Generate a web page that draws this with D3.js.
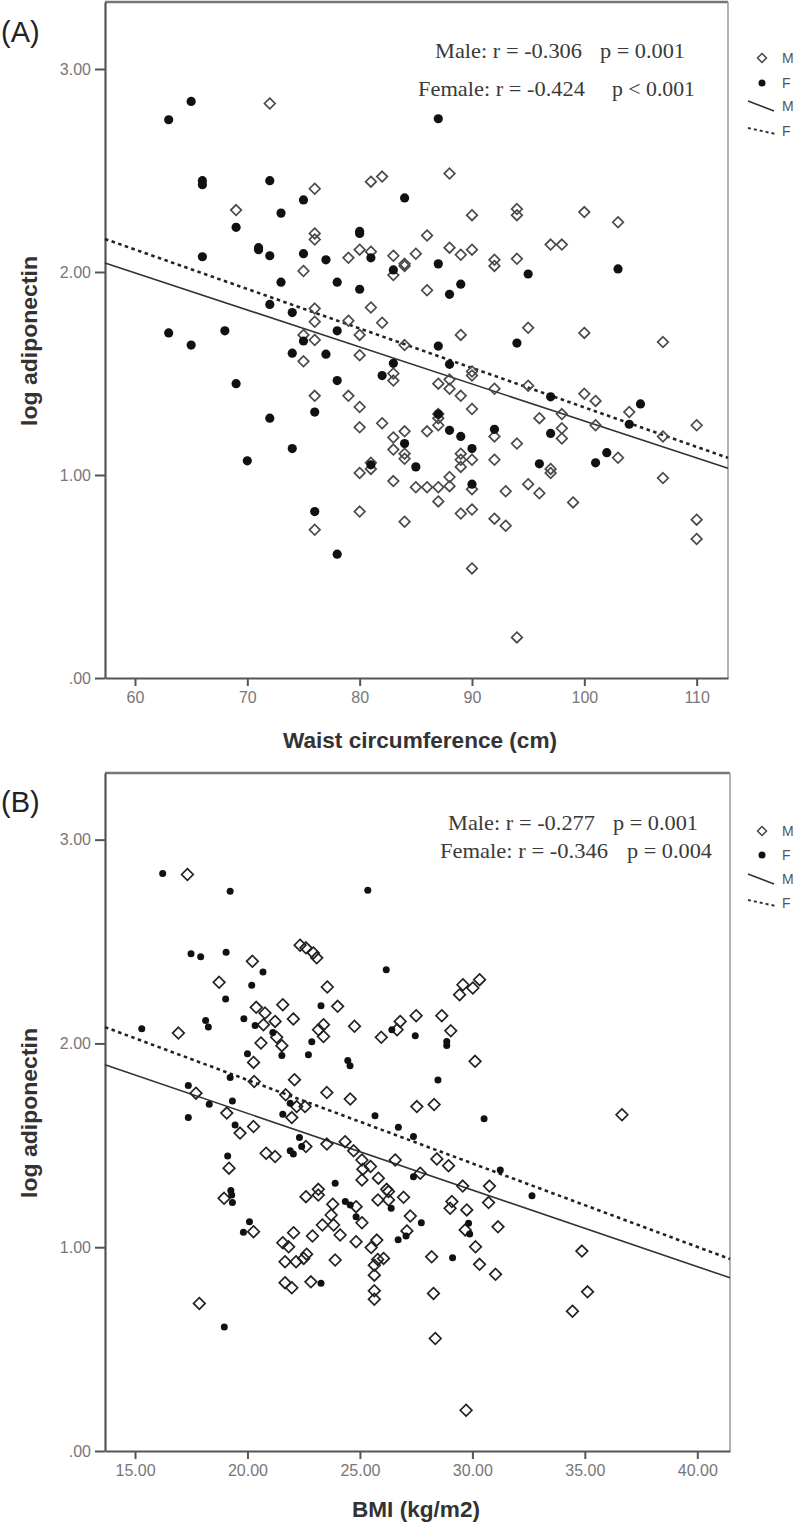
<!DOCTYPE html>
<html>
<head>
<meta charset="utf-8">
<script src="https://cdn.jsdelivr.net/npm/d3@7"></script>
<style>
  html, body { margin: 0; padding: 0; background: #fff; }
  svg { display: block; }
</style>
</head>
<body>
<svg id="chart" width="800" height="1527"></svg>
<script>
// ---------------- DATA ----------------
// Panel A: waist circumference (cm) vs log adiponectin
const maleWaist = [
  [72,2.83],[76,2.41],[81,2.445],[82,2.47],[69,2.305],[76,2.19],[76,2.16],[79,2.07],[80,2.11],[81,2.10],
  [83,2.08],[75,2.005],[76,1.82],[76,1.755],[79,1.76],[81,1.825],[82,1.75],[80,1.69],[75,1.69],[76,1.665],
  [88,2.485],[90,2.28],[86,2.18],[84,2.04],[84,2.03],[85,2.09],[88,2.12],[89,2.085],[90,2.11],[92,2.06],
  [92,2.03],[83,1.985],[86,1.91],[89,1.69],[84,1.64],[75,1.56],[80,1.59],[83,1.50],[83,1.465],[87,1.45],
  [88,1.425],[90,1.51],[90,1.49],[92,1.425],[89,1.39],[79,1.39],[76,1.39],[88,1.47],[94,2.31],[94,2.28],
  [100,2.295],[103,2.245],[94,2.065],[97,2.135],[98,2.135],[95,1.725],[100,1.70],[107,1.655],[90,1.325],[95,1.44],
  [100,1.40],[101,1.365],[98,1.30],[96,1.28],[104,1.31],[110,1.245],[87,1.28],[87,1.245],[86,1.215],[89,1.105],
  [89,1.075],[89,1.04],[90,1.075],[92,1.19],[92,1.075],[94,1.155],[98,1.23],[98,1.18],[97,1.03],[97,1.01],
  [101,1.245],[103,1.085],[107,1.19],[107,0.985],[84,1.215],[84,1.105],[84,1.08],[85,0.94],[86,0.94],[87,0.94],
  [88,0.945],[88,0.99],[87,0.87],[90,0.93],[89,0.81],[90,0.83],[93,0.92],[95,0.955],[96,0.91],[99,0.865],
  [92,0.785],[93,0.75],[84,0.77],[110,0.78],[110,0.685],[90,0.54],[94,0.20],[80,1.335],[82,1.255],[80,1.235],
  [83,1.185],[83,1.125],[81,1.06],[81,1.03],[80,1.01],[83,0.97],[80,0.82],[76,0.73],[87,1.30]
];
const femaleWaist = [
  [63,2.75],[65,2.84],[66,2.45],[66,2.43],[72,2.45],[75,2.355],[73,2.29],[69,2.22],[71,2.12],[71,2.11],
  [72,2.08],[66,2.075],[75,2.09],[77,2.06],[80,2.19],[80,2.20],[81,2.07],[83,2.01],[84,2.365],[87,2.04],
  [87,2.755],[73,1.95],[78,1.95],[80,1.915],[89,1.94],[88,1.89],[72,1.84],[74,1.80],[78,1.71],[63,1.70],
  [68,1.71],[65,1.64],[75,1.66],[74,1.60],[77,1.595],[87,1.635],[83,1.55],[82,1.49],[88,1.545],[69,1.45],
  [78,1.465],[76,1.31],[72,1.28],[74,1.13],[70,1.07],[76,0.82],[78,0.61],[95,1.99],[103,2.015],[94,1.65],
  [97,1.385],[105,1.35],[104,1.25],[84,1.155],[88,1.22],[89,1.19],[90,1.13],[92,1.225],[97,1.205],[85,1.04],
  [90,0.955],[96,1.055],[101,1.06],[102,1.11],[87,1.30],[81,1.05]
];
// Panel B: BMI (kg/m2) vs log adiponectin
const maleBMI = [
  [17.33,2.829],[22.34,2.482],[22.6,2.469],[22.93,2.444],[23.08,2.42],[20.22,2.403],[18.74,2.30],[23.55,2.277],[21.57,2.19],[20.39,2.177],
  [20.78,2.149],[24.01,2.182],[22.04,2.12],[21.23,2.108],[20.71,2.092],[24.76,2.084],[23.38,2.092],[23.16,2.067],[23.38,2.034],[16.93,2.051],
  [21.3,2.03],[21.53,1.989],[20.6,2.002],[25.95,2.03],[26.65,2.067],[20.27,1.907],[22.09,1.822],[20.3,1.813],[17.71,1.756],[23.53,1.759],
  [24.57,1.727],[21.7,1.748],[22.19,1.69],[19.08,1.658],[20.27,1.592],[21.97,1.636],[22.56,1.69],[19.67,1.56],[26.79,2.108],[27.5,2.136],
  [27.53,1.69],[23.53,1.506],[24.34,1.518],[24.72,1.473],[25.09,1.428],[25.13,1.383],[25.47,1.396],[26.57,1.428],[25.82,1.339],[25.09,1.33],
  [26.19,1.284],[27.68,1.363],[22.6,1.494],[20.83,1.461],[21.23,1.445],[19.18,1.388],[23.15,1.284],[22.6,1.248],[18.96,1.24],[23.15,1.256],
  [23.79,1.211],[23.72,1.158],[23.83,1.109],[24.83,1.199],[25.09,1.12],[25.8,1.232],[26.27,1.273],[26.27,1.232],[23.33,1.109],[22.89,1.055],
  [22.05,1.071],[21.57,1.022],[21.83,1.002],[24.12,1.06],[24.83,1.027],[25.5,0.998],[25.75,1.035],[21.67,0.929],[22.16,0.929],[22.5,0.945],
  [22.63,0.966],[23.9,0.937],[25.64,0.912],[25.79,0.94],[26.05,0.945],[25.64,0.863],[21.67,0.826],[21.97,0.801],[22.82,0.83],[25.64,0.786],
  [25.64,0.745],[20.27,1.076],[17.86,0.724],[28.3,1.70],[28.42,1.433],[28.94,1.40],[29.57,1.30],[30.76,1.30],[30.72,1.219],[29.09,1.224],
  [29.01,1.191],[29.75,1.183],[31.14,1.10],[30.14,1.002],[30.32,0.916],[31.03,0.867],[28.19,0.953],[28.27,0.773],[28.35,0.552],[26.94,1.245],
  [27.24,1.153],[36.65,1.65],[27.09,1.08],[29.68,1.085],[29.72,0.20],[34.87,0.981],[35.12,0.781],[34.45,0.686],[29.43,2.239],[29.58,2.288],
  [30.02,2.272],[30.32,2.313],[28.64,2.136],[29.04,2.062],[30.12,1.912]
];
const femaleBMI = [
  [16.23,2.834],[19.23,2.747],[25.35,2.752],[17.49,2.44],[17.92,2.425],[19.05,2.447],[20.69,2.35],[26.17,2.362],[20.19,2.285],[19.03,2.218],
  [23.27,2.185],[19.84,2.121],[18.14,2.112],[18.26,2.08],[20.34,2.088],[15.3,2.072],[21.13,2.054],[22.86,2.008],[21.53,1.941],[20.0,1.949],
  [22.71,1.944],[24.46,1.916],[24.56,1.89],[26.42,2.067],[19.23,1.833],[17.37,1.794],[19.33,1.718],[18.3,1.702],[17.37,1.636],[21.57,1.653],
  [25.67,1.645],[21.9,1.707],[27.46,2.038],[19.45,1.60],[26.71,1.589],[27.38,1.543],[27.38,1.346],[22.31,1.538],[21.9,1.473],[22.04,1.457],
  [22.41,1.494],[19.12,1.448],[23.9,1.314],[19.26,1.278],[19.3,1.256],[19.33,1.219],[24.35,1.224],[24.57,1.207],[24.83,1.15],[26.39,1.191],
  [20.09,1.125],[19.82,1.073],[26.7,1.037],[23.27,0.823],[18.97,0.609],[28.86,2.01],[28.86,1.99],[28.47,1.82],[30.52,1.63],[31.24,1.379],
  [32.65,1.252],[27.73,1.12],[29.83,1.117],[29.88,1.065],[27.05,1.055],[29.12,0.948]
];
// Regression lines: [intercept, slope]
const fitWaistMale = [3.089, -0.01823];
const fitWaistFemale = [3.277, -0.01944];
const fitBMIMale = [2.409, -0.03761];
const fitBMIFemale = [2.6396, -0.04095];

// Ticks
const yTicks = [0, 1, 2, 3];
const yTickLabels = [".00", "1.00", "2.00", "3.00"];
const waistTicks = [60, 70, 80, 90, 100, 110];
const waistTickLabels = ["60", "70", "80", "90", "100", "110"];
const bmiTicks = [15, 20, 25, 30, 35, 40];
const bmiTickLabels = ["15.00", "20.00", "25.00", "30.00", "35.00", "40.00"];

// Annotation text
const statsA = [["Male: r = -0.306", "p = 0.001"], ["Female: r = -0.424", "p < 0.001"]];
const statsB = [["Male: r = -0.277", "p = 0.001"], ["Female: r = -0.346", "p = 0.004"]];
const legendLabels = ["M", "F", "M", "F"];

// ---------------- DRAW ----------------
const svg = d3.select("#chart");
const SANS = "'Liberation Sans', Arial, sans-serif";
const SERIF = "'Liberation Serif', 'Times New Roman', serif";

function drawPanel(cfg) {
  const x = d3.scaleLinear().domain(cfg.xDomain).range([cfg.left, cfg.right]);
  const y = d3.scaleLinear().domain(cfg.yDomain).range([cfg.bottom, cfg.top]);
  const g = svg.append("g");

  // frame top & right
  g.append("line").attr("x1", cfg.left).attr("x2", cfg.right).attr("y1", cfg.top).attr("y2", cfg.top)
    .attr("stroke", "#777").attr("stroke-width", 2.5);
  g.append("line").attr("x1", cfg.right).attr("x2", cfg.right).attr("y1", cfg.top).attr("y2", cfg.bottom)
    .attr("stroke", "#999").attr("stroke-width", 1.5);

  // y axis
  const yAxis = d3.axisLeft(y).tickValues(yTicks)
    .tickFormat((d, i) => yTickLabels[yTicks.indexOf(d)])
    .tickSizeInner(10).tickSizeOuter(0).tickPadding(4);
  const ya = g.append("g").attr("transform", `translate(${cfg.left},0)`).call(yAxis);
  ya.select(".domain").attr("stroke", "#555").attr("stroke-width", 2.2);
  ya.selectAll(".tick line").attr("stroke", "#555").attr("stroke-width", 2);
  ya.selectAll(".tick text").attr("fill", "#777").style("font-family", SANS).style("font-size", "16px");

  // x axis
  const xAxis = d3.axisBottom(x).tickValues(cfg.xTicks)
    .tickFormat(d => cfg.xTickLabels[cfg.xTicks.indexOf(d)])
    .tickSizeInner(8).tickSizeOuter(0).tickPadding(6);
  const xa = g.append("g").attr("transform", `translate(0,${cfg.bottom})`).call(xAxis);
  xa.select(".domain").attr("stroke", "#555").attr("stroke-width", 2.2);
  xa.selectAll(".tick line").attr("stroke", "#555").attr("stroke-width", 2);
  xa.selectAll(".tick text").attr("fill", "#777").style("font-family", SANS).style("font-size", "16px");

  // regression lines
  const lineGen = d3.line().x(d => x(d[0])).y(d => y(d[1]));
  const ends = f => cfg.xDomain.map(v => [v, f[0] + f[1] * v]);
  g.append("path").attr("d", lineGen(ends(cfg.fitM))).attr("fill", "none")
    .attr("stroke", "#333").attr("stroke-width", 1.6);
  g.append("path").attr("d", lineGen(ends(cfg.fitF))).attr("fill", "none")
    .attr("stroke", "#222").attr("stroke-width", 2.6).attr("stroke-dasharray", "3.5,3.5");

  // male diamonds
  const s = cfg.dSize;
  g.append("g").selectAll("path").data(cfg.male).join("path")
    .attr("d", d => `M${x(d[0])},${y(d[1]) - s}L${x(d[0]) + s},${y(d[1])}L${x(d[0])},${y(d[1]) + s}L${x(d[0]) - s},${y(d[1])}Z`)
    .attr("fill", "none").attr("stroke", cfg.dColor).attr("stroke-width", 1.7);
  // female dots
  g.append("g").selectAll("circle").data(cfg.female).join("circle")
    .attr("cx", d => x(d[0])).attr("cy", d => y(d[1])).attr("r", cfg.r).attr("fill", "#111");

  // stats text
  cfg.stats.forEach((row, i) => {
    const p = cfg.statsPos[i];
    g.append("text").attr("x", p[0]).attr("y", p[2]).text(row[0])
      .attr("textLength", p[3]).attr("lengthAdjust", "spacingAndGlyphs")
      .style("font-family", SERIF).style("font-size", "21px").attr("fill", "#3a3a3a");
    g.append("text").attr("x", p[1]).attr("y", p[2]).text(row[1])
      .attr("textLength", p[4]).attr("lengthAdjust", "spacingAndGlyphs")
      .style("font-family", SERIF).style("font-size", "21px").attr("fill", "#3a3a3a");
  });

  // axis titles
  g.append("text").attr("transform", `translate(37,${(cfg.top + cfg.bottom) / 2 + 1}) rotate(-90)`)
    .attr("text-anchor", "middle").text("log adiponectin")
    .attr("textLength", 170).attr("lengthAdjust", "spacingAndGlyphs")
    .style("font-family", SANS).style("font-size", "22px").style("font-weight", "bold").attr("fill", "#333");
  g.append("text").attr("x", cfg.xTitlePos[0]).attr("y", cfg.xTitlePos[1]).attr("text-anchor", "middle")
    .text(cfg.xTitle).attr("textLength", cfg.xTitlePos[2]).attr("lengthAdjust", "spacingAndGlyphs")
    .style("font-family", SANS).style("font-size", "22px").style("font-weight", "bold").attr("fill", "#333");

  // panel label
  g.append("text").attr("x", 1).attr("y", cfg.labelY).text(cfg.label)
    .style("font-family", SANS).style("font-size", "29px").attr("fill", "#222");

  // legend
  const L = cfg.legend; // [y diamond, y dot, y line, y dotted]
  const lx = 762;
  g.append("path").attr("d", `M${lx},${L[0] - 4.5}L${lx + 4.5},${L[0]}L${lx},${L[0] + 4.5}L${lx - 4.5},${L[0]}Z`)
    .attr("fill", "none").attr("stroke", "#444").attr("stroke-width", 1.5);
  g.append("circle").attr("cx", lx).attr("cy", L[1]).attr("r", 3.5).attr("fill", "#111");
  g.append("line").attr("x1", 748).attr("y1", L[2] - 5).attr("x2", 774).attr("y2", L[2] + 5)
    .attr("stroke", "#333").attr("stroke-width", 1.6);
  g.append("line").attr("x1", 748).attr("y1", L[3] - 3).attr("x2", 776).attr("y2", L[3] + 3)
    .attr("stroke", "#333").attr("stroke-width", 2).attr("stroke-dasharray", "3,3");
  legendLabels.forEach((t, i) => {
    g.append("text").attr("x", 782).attr("y", L[i] + 5).text(t)
      .style("font-family", SANS).style("font-size", "14px").attr("fill", "#555");
  });
}

drawPanel({
  left: 105, right: 728, top: 2, bottom: 678,
  xDomain: [57.33, 112.79], yDomain: [0, 3.33],
  xTicks: waistTicks, xTickLabels: waistTickLabels,
  male: maleWaist, female: femaleWaist,
  fitM: fitWaistMale, fitF: fitWaistFemale,
  dSize: 5.3, dColor: "#4a4a4a", r: 4.6,
  stats: statsA,
  statsPos: [[435, 600, 58, 147, 85], [418, 612, 96, 167, 83]],
  xTitle: "Waist circumference (cm)", xTitlePos: [420, 748, 274],
  label: "(A)", labelY: 42,
  legend: [58, 83, 106, 131]
});

drawPanel({
  left: 105, right: 730, top: 773, bottom: 1451,
  xDomain: [13.666, 41.454], yDomain: [0, 3.327],
  xTicks: bmiTicks, xTickLabels: bmiTickLabels,
  male: maleBMI, female: femaleBMI,
  dSize: 5.8, dColor: "#222", r: 3.5,
  fitM: fitBMIMale, fitF: fitBMIFemale,
  stats: statsB,
  statsPos: [[448, 613, 830, 147, 85], [440, 627, 858, 168, 85]],
  xTitle: "BMI (kg/m2)", xTitlePos: [416, 1517, 128],
  label: "(B)", labelY: 812,
  legend: [831, 855, 879, 903]
});
</script>
</body>
</html>
